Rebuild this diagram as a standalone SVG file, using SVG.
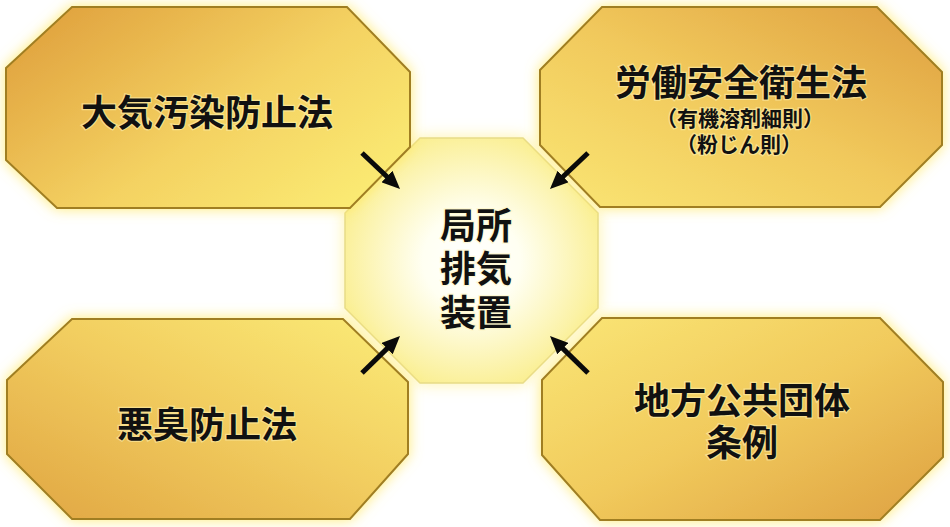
<svg xmlns="http://www.w3.org/2000/svg" width="950" height="527" viewBox="0 0 950 527">
<defs>
  <linearGradient id="gTL" x1="0" y1="0.15" x2="1" y2="0.85">
    <stop offset="0" stop-color="#E0A23E"/>
    <stop offset="0.55" stop-color="#F4D262"/>
    <stop offset="1" stop-color="#FBEC74"/>
  </linearGradient>
  <linearGradient id="gTR" x1="0" y1="1" x2="1" y2="0">
    <stop offset="0" stop-color="#FAE674"/>
    <stop offset="0.5" stop-color="#F1C95C"/>
    <stop offset="1" stop-color="#DE9F40"/>
  </linearGradient>
  <linearGradient id="gBL" x1="0" y1="1" x2="1" y2="0">
    <stop offset="0" stop-color="#E0A542"/>
    <stop offset="0.55" stop-color="#F2CE60"/>
    <stop offset="1" stop-color="#FBEC78"/>
  </linearGradient>
  <linearGradient id="gBR" x1="0" y1="0" x2="1" y2="1">
    <stop offset="0" stop-color="#FAE676"/>
    <stop offset="0.5" stop-color="#F1CA5C"/>
    <stop offset="1" stop-color="#DEA142"/>
  </linearGradient>
  <radialGradient id="gC" cx="0.5" cy="0.5" r="0.55">
    <stop offset="0" stop-color="#FFFFFF"/>
    <stop offset="0.35" stop-color="#FFFFF2"/>
    <stop offset="1" stop-color="#FAEE8E"/>
  </radialGradient>
  <filter id="glow" x="-20%" y="-20%" width="140%" height="140%">
    <feGaussianBlur in="SourceAlpha" stdDeviation="7" result="b"/>
    <feFlood flood-color="#FFE85E" flood-opacity="0.85"/>
    <feComposite in2="b" operator="in" result="g"/>
    <feMerge><feMergeNode in="g"/><feMergeNode in="SourceGraphic"/></feMerge>
  </filter>
  <filter id="cglow" x="-20%" y="-20%" width="140%" height="140%">
    <feGaussianBlur in="SourceAlpha" stdDeviation="8" result="b"/>
    <feFlood flood-color="#FFF29A" flood-opacity="0.85"/>
    <feComposite in2="b" operator="in" result="g"/>
    <feMerge><feMergeNode in="g"/><feMergeNode in="SourceGraphic"/></feMerge>
  </filter>
  <marker id="ah" markerUnits="userSpaceOnUse" markerWidth="18" markerHeight="16" refX="6" refY="8" orient="auto">
    <path d="M0,0 L18,8 L0,16 Z" fill="#0A0A0A"/>
  </marker>
  <style>
    .node { stroke: #A07E24; stroke-width: 2; filter: url(#glow); }
    .center { stroke: #E8DC88; stroke-width: 1.5; filter: url(#cglow); }
    .t { font-family: "Noto Sans CJK JP", "Noto Sans CJK SC", sans-serif; font-weight: 700; fill: #111; text-anchor: middle; dominant-baseline: central; stroke: #FFF4B8; stroke-width: 2.5; stroke-opacity: 0.55; paint-order: stroke; }
    .big { font-size: 36px; }
    .small { font-size: 21px; }
    .arrow { stroke: #0A0A0A; stroke-width: 5; fill: none; marker-end: url(#ah); }
  </style>
</defs>
<rect width="950" height="527" fill="#FFFFFF"/>

<g id="center">
  <polygon class="center" fill="url(#gC)" points="420,138 523,138 598,213 598,308 523,383 420,383 345,308 345,213"/>
  <text class="t big" x="476" y="223"><tspan x="476" y="223">局所</tspan><tspan x="476" y="266">排気</tspan><tspan x="476" y="310">装置</tspan></text>
</g>

<g id="node-taiki">
  <polygon class="node" fill="url(#gTL)" points="72,7 347,7 410,72 410,147 350,208 57,208 6,160 6,68"/>
  <text class="t big" x="207" y="110">大気汚染防止法</text>
</g>

<g id="node-roudou">
  <polygon class="node" fill="url(#gTR)" points="602,7 877,7 942,72 942,145 880,207 600,207 540,145 540,70"/>
  <text class="t big" x="741" y="80">労働安全衛生法</text>
  <text class="t small" x="740" y="117"><tspan x="740" y="117">（有機溶剤細則）</tspan><tspan x="739" y="143">（粉じん則）</tspan></text>
</g>

<g id="node-akushu">
  <polygon class="node" fill="url(#gBL)" points="72,319 343,319 408,382 408,454 350,519 72,519 7,454 7,380"/>
  <text class="t big" x="207" y="422">悪臭防止法</text>
</g>

<g id="node-chihou">
  <polygon class="node" fill="url(#gBR)" points="602,318 880,318 943,382 943,457 880,520 600,520 542,455 542,380"/>
  <text class="t big" x="742" y="398"><tspan x="742" y="398">地方公共団体</tspan><tspan x="742" y="440">条例</tspan></text>
</g>

<g id="connectors">
  <line class="arrow" x1="362" y1="153" x2="391.3" y2="180.7"/>
  <line class="arrow" x1="588" y1="153" x2="558.7" y2="180.7"/>
  <line class="arrow" x1="362" y1="373" x2="391.4" y2="344.4"/>
  <line class="arrow" x1="588" y1="373" x2="558.6" y2="344.4"/>
</g>
</svg>
